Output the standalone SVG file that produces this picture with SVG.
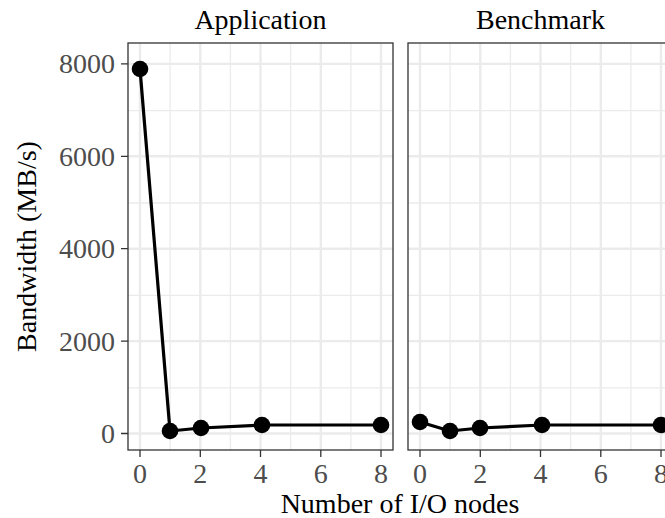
<svg xmlns="http://www.w3.org/2000/svg" width="665" height="518" viewBox="0 0 665 518">
<style>
text{font-family:"Liberation Serif","Times New Roman",serif;font-size:28px}
.tick{fill:#4d4d4d}
.title{fill:#000}
.gmaj{stroke:#ebebeb;stroke-width:2.4;fill:none}
.gmin{stroke:#ebebeb;stroke-width:1.3;fill:none}
.border{fill:none;stroke:#333;stroke-width:1.3}
.tk{stroke:#333;stroke-width:1.3}
.ln{fill:none;stroke:#000;stroke-width:3.2;stroke-linejoin:round}
.pt{fill:#000}
</style>
<rect width="665" height="518" fill="#fff"/>
<g id="panel-application">
<path class="gmin" d="M128 387.8H393M128 295.4H393M128 203H393M128 110.6H393M170.1 43V450M230.4 43V450M290.6 43V450M350.9 43V450"/>
<path class="gmaj" d="M128 433.5H393M128 341.1H393M128 248.7H393M128 156.3H393M128 63.9H393M140 43V450M200.3 43V450M260.5 43V450M320.8 43V450M381 43V450"/>
<rect class="border" x="128" y="43" width="265" height="407"/>
<text class="title" x="260.5" y="29" text-anchor="middle">Application</text>
</g>
<g id="panel-benchmark">
<path class="gmin" d="M408 387.8H673M408 295.4H673M408 203H673M408 110.6H673M450.1 43V450M510.4 43V450M570.6 43V450M630.9 43V450"/>
<path class="gmaj" d="M408 433.5H673M408 341.1H673M408 248.7H673M408 156.3H673M408 63.9H673M420 43V450M480.3 43V450M540.5 43V450M600.8 43V450M661 43V450"/>
<rect class="border" x="408" y="43" width="265" height="407"/>
<text class="title" x="540.5" y="29" text-anchor="middle">Benchmark</text>
</g>
<g id="y-axis">
<path class="tk" d="M121 433.5H128M121 341.1H128M121 248.7H128M121 156.3H128M121 63.9H128"/>
<text class="tick" x="115" y="443" text-anchor="end">0</text>
<text class="tick" x="115" y="350.6" text-anchor="end">2000</text>
<text class="tick" x="115" y="258.2" text-anchor="end">4000</text>
<text class="tick" x="115" y="165.8" text-anchor="end">6000</text>
<text class="tick" x="115" y="73.4" text-anchor="end">8000</text>
<text class="title" transform="translate(36,246.5) rotate(-90)" text-anchor="middle">Bandwidth (MB/s)</text>
</g>
<g id="x-axis">
<path class="tk" d="M140 450V457M200.3 450V457M260.5 450V457M320.8 450V457M381 450V457M420 450V457M480.3 450V457M540.5 450V457M600.8 450V457M661 450V457"/>
<g class="tick" text-anchor="middle">
<text x="140" y="483">0</text><text x="200.3" y="483">2</text><text x="260.5" y="483">4</text><text x="320.8" y="483">6</text><text x="381" y="483">8</text>
<text x="420" y="483">0</text><text x="480.3" y="483">2</text><text x="540.5" y="483">4</text><text x="600.8" y="483">6</text><text x="661" y="483">8</text>
</g>
<text class="title" x="400" y="513" text-anchor="middle">Number of I/O nodes</text>
</g>
<g id="connectors">
<polyline class="ln" points="140,69 170,431 201,428 262,425 381,425"/>
<polyline class="ln" points="420,422 450,431 480,428 542,425 661,425"/>
</g>
<g id="points">
<circle class="pt" cx="140" cy="69" r="8.3"/><circle class="pt" cx="170" cy="431" r="8.3"/><circle class="pt" cx="201" cy="428" r="8.3"/><circle class="pt" cx="262" cy="425" r="8.3"/><circle class="pt" cx="381" cy="425" r="8.3"/>
<circle class="pt" cx="420" cy="422" r="8.3"/><circle class="pt" cx="450" cy="431" r="8.3"/><circle class="pt" cx="480" cy="428" r="8.3"/><circle class="pt" cx="542" cy="425" r="8.3"/><circle class="pt" cx="661" cy="425" r="8.3"/>
</g>
</svg>
